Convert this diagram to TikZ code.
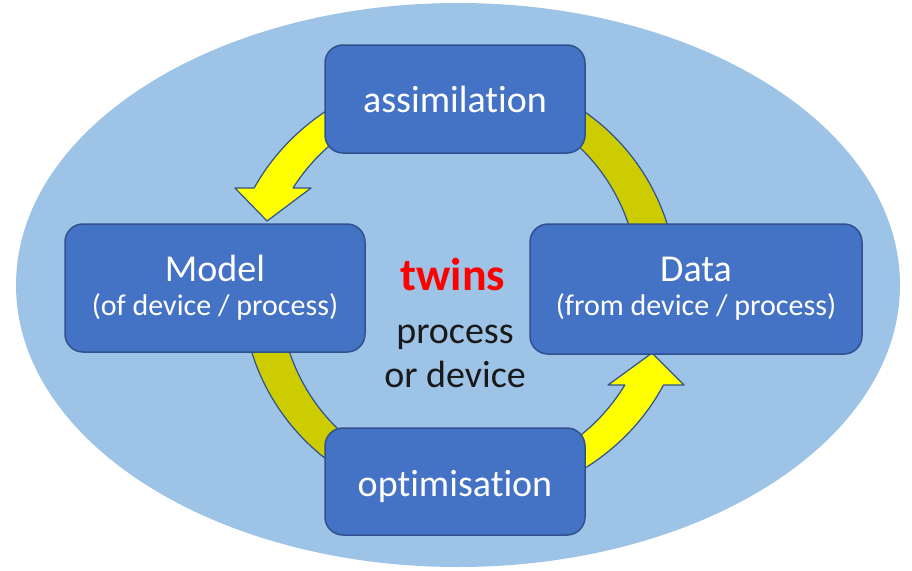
\documentclass[tikz,border=0pt]{standalone}
\usepackage{fontspec}
\setmainfont{Carlito}[Ligatures={NoCommon}]
\usepackage{tikz}
\usetikzlibrary{calc,positioning}
\definecolor{ovalblue}{RGB}{157,195,230}
\definecolor{boxblue}{RGB}{68,114,196}
\definecolor{boxedge}{RGB}{47,82,143}
\definecolor{arrowyellow}{RGB}{255,255,0}
\definecolor{arrowolive}{RGB}{204,204,0}
\newcommand{\titlefont}{\fontsize{38}{42}\selectfont}
\newcommand{\subfont}{\fontsize{30}{34}\selectfont}
\tikzstyle{stage} = [rectangle, rounded corners=18pt, draw=boxedge, fill=boxblue,
    line width=1.5pt, text=white, align=center, inner sep=0pt, font=\subfont]
\tikzstyle{band} = [draw=boxedge, line width=1.2pt, line join=round]
\tikzstyle{centre} = [anchor=base, text=black!90, font=\titlefont]

\begin{document}
\begin{tikzpicture}[x=1pt, y=-1pt]
\useasboundingbox (0,0) rectangle (912,570);
% Background oval
\fill[ovalblue] (458,285) ellipse [x radius=442, y radius=282];
% Cycle ring
\coordinate (ring) at (458,288);
\path[band, fill=arrowolive] ($(ring)+(295:219 and 216)$) arc[start angle=295, end angle=345, x radius=219, y radius=216]
    -- ($(ring)+(345:181 and 190)$) arc[start angle=345, end angle=295, x radius=181, y radius=190] -- cycle;
\path[band, fill=arrowolive] ($(ring)+(115:216 and 216)$) arc[start angle=115, end angle=170, x radius=216, y radius=216]
    -- ($(ring)+(170:179 and 190)$) arc[start angle=170, end angle=115, x radius=179, y radius=190] -- cycle;
\path[band, fill=arrowyellow] ($(ring)+(245:230 and 216)$) arc[start angle=245, end angle=207.6, x radius=230, y radius=216]
    -- (235,188) -- (267,221) -- (311,188)
    -- ($(ring)+(211.75:194 and 190)$) arc[start angle=211.75, end angle=245, x radius=194, y radius=190] -- cycle;
\path[band, fill=arrowyellow] ($(ring)+(65:230 and 216)$) arc[start angle=65, end angle=26.7, x radius=230, y radius=216]
    -- (684,385) -- (652,353) -- (608,385)
    -- ($(ring)+(30.7:194 and 190)$) arc[start angle=30.7, end angle=65, x radius=194, y radius=190] -- cycle;
% Stages
\node[stage, minimum width=260pt, minimum height=108pt, font=\titlefont] (assim) at (455,99) {assimilation};
\node[stage, minimum width=300pt, minimum height=128pt] (model) at (215,288) {{\titlefont Model}\\{\subfont (of device / process)}};
\node[stage, minimum width=332pt, minimum height=130pt] (data) at (696,289) {{\titlefont Data}\\{\subfont (from device / process)}};
\node[stage, minimum width=260pt, minimum height=107pt, font=\titlefont, text height=32pt, text depth=3pt] (optim) at (455,481.5) {optimisation};
% Centre label
\node[centre, text=red, font=\fontsize{46}{50}\selectfont\bfseries] (twins) at (453,290) {twins};
\node[centre] (twinproc) at (455,343) {process};
\node[centre] (twindev) at (455,387) {or device};
\end{tikzpicture}
\end{document}
